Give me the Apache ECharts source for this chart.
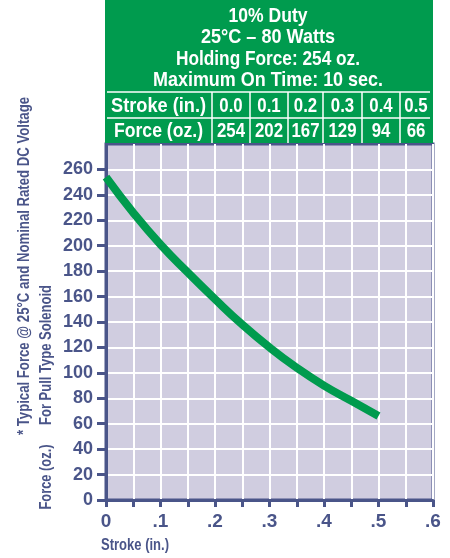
<!DOCTYPE html>
<html>
<head>
<meta charset="utf-8">
<script src="https://cdn.jsdelivr.net/npm/echarts@6/dist/echarts.min.js"></script>
<style>
  html, body { margin: 0; padding: 0; background: #fff; }
  #chart { width: 450px; height: 558px; }
</style>
</head>
<body>
<div id="chart"></div>
<script>
// curve
const strokeIn = [0, 0.05, 0.1, 0.15, 0.2, 0.25, 0.3, 0.35, 0.4, 0.45, 0.5];
const forceOz = [254, 226, 201, 179, 158, 138, 120, 104, 90, 78, 66];

// header table
const titleLines = ['10% Duty', '25°C – 80 Watts', 'Holding Force: 254 oz.', 'Maximum On Time: 10 sec.'];
const tableStroke = ['0.0', '0.1', '0.2', '0.3', '0.4', '0.5'];
const tableForce = ['254', '202', '167', '129', '94', '66'];

const yTicks = [0, 20, 40, 60, 80, 100, 120, 140, 160, 180, 200, 220, 240, 260];
const xLabels = [0, 0.1, 0.2, 0.3, 0.4, 0.5, 0.6];

const FONT = "'Liberation Sans', Arial, sans-serif";
const INK = '#4a5589';
const GREEN = '#009b4e';

// squeeze text to a target width (condensed look)
const ctx = document.createElement('canvas').getContext('2d');
function fitScale(text, font, w) {
  ctx.font = font;
  return w / ctx.measureText(text).width;
}
function label(text, x, y, size, w, opts) {
  const font = 'bold ' + size + 'px ' + FONT;
  const o = opts || {};
  return {
    type: 'text', x: x, y: y, z: 3,
    rotation: o.rotation || 0,
    scaleX: w ? fitScale(text, font, w) : (o.scale || 1),
    style: {
      text: text, fill: o.fill || '#fff', font: font,
      textAlign: o.align || 'center', textVerticalAlign: 'middle'
    }
  };
}

const chart = echarts.init(document.getElementById('chart'));

// table layout
const colEdges = [105, 212, 250, 288, 323, 362, 400, 432];
const row1Y = 106, row2Y = 131;

const graphic = [];
graphic.push({ type: 'rect', shape: { x: 105, y: 0, width: 328, height: 143 }, style: { fill: GREEN }, z: 1 });
const titleY = [16, 37, 59, 80];
const titleW = [79, 134, 184, 230];
titleLines.forEach((t, i) => graphic.push(label(t, 268, titleY[i], 21, titleW[i])));
graphic.push({ type: 'line', shape: { x1: 107, y1: 92, x2: 430, y2: 92 }, style: { stroke: '#fff', lineWidth: 1.5 }, z: 2 });
graphic.push({ type: 'line', shape: { x1: 107, y1: 118, x2: 430, y2: 118 }, style: { stroke: '#fff', lineWidth: 1.5 }, z: 2 });
for (let i = 1; i < colEdges.length - 1; i++) {
  graphic.push({ type: 'line', shape: { x1: colEdges[i], y1: 92, x2: colEdges[i], y2: 143 }, style: { stroke: '#fff', lineWidth: 1.5 }, z: 2 });
}
const rowLabels = ['Stroke (in.)', 'Force (oz.)'];
const rowLabelW = [95, 89];
[tableStroke, tableForce].forEach((row, r) => {
  const cy = r === 0 ? row1Y : row2Y;
  graphic.push(label(rowLabels[r], (colEdges[0] + colEdges[1]) / 2, cy, 21, rowLabelW[r]));
  row.forEach((v, i) => {
    graphic.push(label(v, (colEdges[i + 1] + colEdges[i + 2]) / 2, cy, 21, null, { scale: 0.8 }));
  });
});

// side notes
graphic.push(label('* Typical Force @ 25°C and Nominal Rated DC Voltage', 24, 266, 17, 338, { rotation: Math.PI / 2, fill: INK }));
graphic.push(label('For Pull Type Solenoid', 46, 355, 17, 140, { rotation: Math.PI / 2, fill: INK }));
graphic.push(label('Force (oz.)', 46, 477, 17, 65, { rotation: Math.PI / 2, fill: INK }));
graphic.push(label('Stroke (in.)', 101, 546, 16, 68, { align: 'left', fill: INK }));

const option = {
  animation: false,
  grid: {
    left: 106, right: 17, top: 144, bottom: 58,
    show: true, backgroundColor: '#d0cde0', borderColor: INK, borderWidth: 3
  },
  xAxis: {
    type: 'value', min: 0, max: 0.6, interval: 0.05,
    axisLine: { show: true, lineStyle: { color: INK, width: 3 } },
    axisTick: { show: true, length: 7, lineStyle: { color: INK, width: 3 } },
    splitLine: { show: true, lineStyle: { color: '#fff', width: 2 } },
    axisLabel: {
      customValues: xLabels, margin: 12,
      color: INK, fontFamily: FONT, fontWeight: 'bold', fontSize: 19,
      formatter: v => v === 0 ? '0' : v.toFixed(1).replace(/^0/, '')
    }
  },
  yAxis: {
    type: 'value', min: 0, max: 280, interval: 20,
    axisLine: { show: true, lineStyle: { color: INK, width: 3 } },
    axisTick: { show: true, length: 9, customValues: yTicks, lineStyle: { color: INK, width: 3 } },
    splitLine: { show: true, lineStyle: { color: '#fff', width: 2 } },
    axisLabel: {
      customValues: yTicks, margin: 13,
      color: INK, fontFamily: FONT, fontWeight: 'bold', fontSize: 18
    }
  },
  series: [{
    type: 'line',
    data: strokeIn.map((x, i) => [x, forceOz[i]]),
    smooth: true, showSymbol: false,
    lineStyle: { color: GREEN, width: 8, cap: 'butt' },
    z: 5
  }],
  graphic: graphic
};

chart.setOption(option);
</script>
</body>
</html>
